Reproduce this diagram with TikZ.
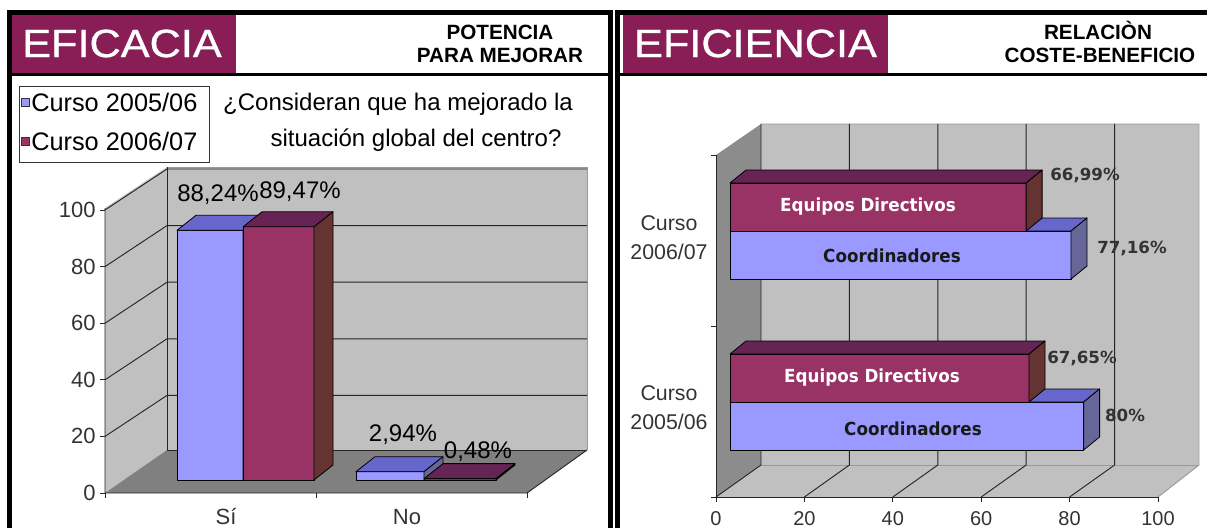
\documentclass[tikz,border=0pt]{standalone}
\usepackage{fontspec}
\setmainfont{Liberation Sans}
\newfontfamily\barfont{DejaVu Sans}
\newfontface\titlefont{Liberation Sans}[FakeBold=0.8]
\usepackage{graphicx}
\usetikzlibrary{calc}

\definecolor{header}{RGB}{137,30,86}
\definecolor{wall}{RGB}{192,192,192}
\definecolor{floordark}{RGB}{128,128,128}
\definecolor{sidewall}{RGB}{140,140,140}
\definecolor{blueface}{RGB}{153,153,255}
\definecolor{bluetop}{RGB}{102,102,204}
\definecolor{blueside}{RGB}{102,102,153}
\definecolor{redface}{RGB}{153,51,102}
\definecolor{redtop}{RGB}{102,36,84}
\definecolor{redside}{RGB}{102,51,51}

\begin{document}
\begin{tikzpicture}[x=0.75pt,y=-0.75pt,
		frame/.style={line width=3.75pt},
		grid/.style={black!85,line width=0.7pt},
		edge/.style={black!40,line width=0.7pt},
		face/.style={draw=black,line width=0.6pt,line join=round},
		title/.style={text=white,inner sep=0pt,font=\titlefont\fontsize{29.5}{30}\selectfont},
		head/.style={anchor=base,inner sep=0pt,font=\bfseries\fontsize{15.5}{18}\selectfont},
		tick/.style={text=black!80,inner sep=0pt,font=\fontsize{16.5}{20}\selectfont},
		val/.style={inner sep=0pt,font=\fontsize{18}{20}\selectfont},
		bval/.style={text=black!80,inner sep=0pt,font=\barfont\bfseries\fontsize{12.5}{14}\selectfont}]

		\useasboundingbox (0,0) rectangle (1207,528);

		%headers
		\fill[header] (12,15) rectangle (236,73);
		\fill[header] (623,15) rectangle (888,73);
		\node[title] (eficacia) at (122,43.5) {\scalebox{1.1}[1]{EFICACIA}};
		\node[title] (eficiencia) at (755.5,43.5) {\scalebox{1.1}[1]{EFICIENCIA}};
		\node[head] (potencia) at (500,39.5) {POTENCIA};
		\node[head] (mejorar) at (500,62.5) {PARA MEJORAR};
		\node[head] (relacion) at (1098,39.5) {RELACIÒN};
		\node[head] (coste) at (1100,62.5) {COSTE-BENEFICIO};

		%frames
		\draw[frame] (9.5,528) -- (9.5,12.5) -- (610,12.5) -- (610,528);
		\draw[frame] (617.5,528) -- (617.5,12.5) -- (1207,12.5);
		\draw[line width=2.6pt] (9.5,74.5) -- (610,74.5);
		\draw[line width=2.6pt] (617.5,74.5) -- (1207,74.5);

		%legend and question
		\draw[black!80,line width=0.75pt] (19.5,87) rectangle (209,162);
		\draw[black!80,fill=blueface] (21,98) rectangle (29,106);
		\draw[black!80,fill=redface] (21,137) rectangle (29,145);
		\node[val,anchor=west,font=\fontsize{19}{20}\selectfont] (curso1) at (31,102) {Curso 2005/06};
		\node[val,anchor=west,font=\fontsize{19}{20}\selectfont] (curso2) at (31,141) {Curso 2006/07};
		\node[val] (q1) at (398,104) {¿Consideran que ha mejorado la};
		\node[val] (q2) at (416,140) {situación global del centro?};

		%left chart walls
		\fill[wall] (167,167) rectangle (587,450);
		\fill[wall] (105,208) -- (167,167) -- (167,450) -- (105,493) -- cycle;
		\fill[floordark] (105,493) -- (167,450) -- (587,450) -- (527,493) -- cycle;
		\draw[edge] (167,167) -- (587,167) -- (587,450);
		\draw[grid] (167,167) -- (167,450) -- (587,450);
		\foreach \k in {1,...,5}
			\draw[grid] (105,{493-56.6*\k}) -- ++(62,-41) -- ++(420,0);
		\draw[grid] (105,208) -- (105,493) -- (527,493) -- (587,450);
		\foreach \k [evaluate=\k as \lab using int(20*\k)] in {0,...,5}
			\draw[grid] (105,{493-56.6*\k}) -- ++(-5,0) node[tick,left=3pt] (y\k) {\lab};
		\foreach \x in {105,316,527}
			\draw[grid] (\x,493) -- ++(0,5);
		\node[tick] (si) at (226,517) {Sí};
		\node[tick] (no) at (407,517) {No};

		%left chart bars
		\foreach \xa/\xb/\v/\col in {177/243/88.24/blue,243/314/89.47/red,356/424/2.94/blue,424/496/0.48/red} {
			\pgfmathsetmacro\yt{480-2.83*\v}
			\draw[face,fill=\col face] (\xa,480) rectangle (\xb,\yt);
			\draw[face,fill=\col top] (\xa,\yt) -- ++(19,-15) -- ++({\xb-\xa},0) -- (\xb,\yt) -- cycle;
			\draw[face,fill=\col side] (\xb,480) -- ++(19,-15) -- ++(0,{\yt-480}) -- (\xb,\yt) -- cycle;
		}
		\node[val] (sia) at (218,195) {88,24\%};
		\node[val] (sib) at (300,192) {89,47\%};
		\node[val] (noa) at (403,435) {2,94\%};
		\node[val] (nob) at (478,452) {0,48\%};

		%right chart walls
		\fill[wall] (761,124) rectangle (1199,465);
		\fill[sidewall] (716,155) -- (761,124) -- (761,465) -- (716,497) -- cycle;
		\fill[wall] (716,497) -- (761,465) -- (1199,465) -- (1158,497) -- cycle;
		\draw[edge] (761,124) -- (1199,124) -- (1199,465) -- (1158,497);
		\draw[edge] (761,465) -- (1199,465);
		\foreach \k in {0,...,4}
			\draw[grid] ({716+88.4*\k},497) -- ++(45,-32) -- ++(0,-341);
		\draw[grid] (716,155) -- (716,497) -- (1158,497);
		\foreach \y in {155,326,497}
			\draw[grid] (716,\y) -- ++(-5,0);
		\foreach \k [evaluate=\k as \lab using int(20*\k)] in {0,...,5}
			\draw[grid] ({716+88.4*\k},497) -- ++(0,5) node[tick,below=7pt,font=\fontsize{15}{18}\selectfont] (x\k) {\lab};
		\node[tick,align=center,font=\fontsize{16}{21.75}\selectfont] (c07) at (669,237.5) {Curso\\2006/07};
		\node[tick,align=center,font=\fontsize{16}{21.75}\selectfont] (c06) at (669,408) {Curso\\2005/06};

		%right chart bars
		\foreach \ya/\v/\col in {231/77.16/blue,183/66.99/red,402/80/blue,354/67.65/red} {
			\pgfmathsetmacro\xe{730+4.42*\v}
			\draw[face,fill=\col face] (730,\ya) rectangle (\xe,\ya+48);
			\draw[face,fill=\col top] (730,\ya) -- ++(16,-13) -- ++({\xe-730},0) -- (\xe,\ya) -- cycle;
			\draw[face,fill=\col side] (\xe,\ya) -- ++(16,-13) -- ++(0,48) -- (\xe,\ya+48) -- cycle;
		}
		\node[bval,text=white,anchor=base] (ed07) at (868,211) {\scalebox{0.93}[1]{\fontsize{13.5}{14}\selectfont Equipos Directivos}};
		\node[bval,text=black!90,anchor=base] (co07) at (892,262) {\scalebox{0.93}[1]{\fontsize{13.5}{14}\selectfont Coordinadores}};
		\node[bval,text=white,anchor=base] (ed06) at (872,382) {\scalebox{0.93}[1]{\fontsize{13.5}{14}\selectfont Equipos Directivos}};
		\node[bval,text=black!90,anchor=base] (co06) at (913,435) {\scalebox{0.93}[1]{\fontsize{13.5}{14}\selectfont Coordinadores}};
		\node[bval] (v1) at (1085,175) {66,99\%};
		\node[bval] (v2) at (1132,248) {77,16\%};
		\node[bval] (v3) at (1082,358) {67,65\%};
		\node[bval] (v4) at (1125,415) {80\%};

	\end{tikzpicture}
\end{document}
